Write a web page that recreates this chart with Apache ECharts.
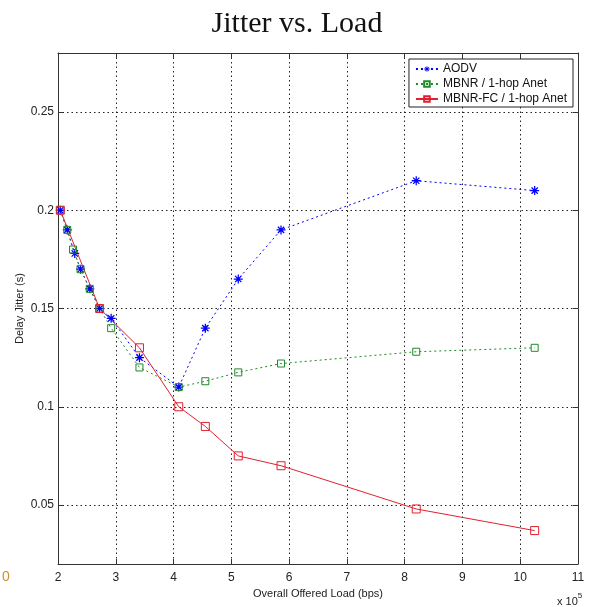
<!DOCTYPE html>
<html><head><meta charset="utf-8">
<script src="https://cdn.jsdelivr.net/npm/echarts@6/dist/echarts.min.js"></script>
<style>html,body{margin:0;padding:0;background:#fff}#c{width:594px;height:607px}</style>
</head><body><div id="c"></div>
<script>
// Offered load in units of 1e5 bps
const aodvX   = [2.04, 2.16, 2.29, 2.39, 2.55, 2.72, 2.92, 3.41, 4.09, 4.55, 5.12, 5.86, 8.2, 10.25];
const aodvY   = [0.200, 0.190, 0.178, 0.170, 0.160, 0.150, 0.145, 0.125, 0.110, 0.140, 0.165, 0.190, 0.215, 0.210];
const mbnrX   = [2.04, 2.16, 2.26, 2.39, 2.55, 2.72, 2.92, 3.41, 4.09, 4.55, 5.12, 5.86, 8.2, 10.25];
const mbnrY   = [0.200, 0.190, 0.180, 0.170, 0.160, 0.150, 0.140, 0.120, 0.110, 0.113, 0.1175, 0.122, 0.128, 0.130];
const fcX     = [2.04, 2.72, 3.41, 4.09, 4.55, 5.12, 5.86, 8.2, 10.25];
const fcY     = [0.200, 0.150, 0.130, 0.100, 0.090, 0.075, 0.070, 0.048, 0.037];
const seriesNames = ['AODV', 'MBNR / 1-hop Anet', 'MBNR-FC / 1-hop Anet'];
const yTicks = [0.05, 0.1, 0.15, 0.2, 0.25];

const pair = (xs, ys) => xs.map((x, i) => [x, ys[i]]);
const star = 'path://M4.3 0H5.7V10H4.3Z M0 4.3H10V5.7H0Z M1 2L2 1L9 8L8 9Z M8 1L9 2L2 9L1 8Z';
const FONT = 'Liberation Sans';
const dotted = { color: '#222', type: [1.5, 3], width: 1 };

const chart = echarts.init(document.getElementById('c'), null, { renderer: 'canvas' });
chart.setOption({
  animation: false,
  backgroundColor: '#fff',
  title: {
    text: 'Jitter vs. Load', left: 'center', top: 4,
    textStyle: { fontFamily: 'Liberation Serif', fontSize: 30, fontWeight: 'normal', color: '#111' }
  },
  grid: { left: 58, right: 16, top: 53, bottom: 43, show: false },
  legend: {
    data: seriesNames, orient: 'vertical', right: 21, top: 59,
    backgroundColor: '#fff', borderColor: '#222', borderWidth: 1,
    padding: [4, 6, 2, 6], itemGap: 3, itemWidth: 22, itemHeight: 7,
    textStyle: { fontFamily: FONT, fontSize: 12, color: '#111' }
  },
  xAxis: [{
    type: 'value', min: 2, max: 11, interval: 1,
    name: 'Overall Offered Load (bps)', nameLocation: 'middle', nameGap: 24,
    nameTextStyle: { fontFamily: FONT, fontSize: 11, color: '#222' },
    axisLine: { show: true, onZero: false, lineStyle: { color: '#333', width: 1 } },
    axisTick: { show: true, inside: true, length: 5, lineStyle: { color: '#333' } },
    axisLabel: { fontFamily: FONT, fontSize: 12, color: '#222', margin: 8 },
    splitLine: { show: true, lineStyle: dotted }
  }, {
    type: 'value', position: 'top', min: 2, max: 11, interval: 1,
    axisLine: { show: true, onZero: false, lineStyle: { color: '#333', width: 1 } },
    axisTick: { show: true, inside: true, length: 5, lineStyle: { color: '#333' } },
    axisLabel: { show: false }, splitLine: { show: false }
  }],
  yAxis: [{
    type: 'value', min: 0.02, max: 0.28,
    name: 'Delay Jitter (s)', nameLocation: 'middle', nameGap: 33, nameMoveOverlap: false,
    nameTextStyle: { fontFamily: FONT, fontSize: 11, color: '#222' },
    axisLine: { show: true, onZero: false, lineStyle: { color: '#333', width: 1 } },
    axisTick: { show: true, inside: true, length: 5, customValues: yTicks, lineStyle: { color: '#333' } },
    axisLabel: { fontFamily: FONT, fontSize: 12, color: '#222', margin: 4, customValues: yTicks },
    splitLine: { show: true, lineStyle: dotted }
  }, {
    type: 'value', position: 'right', min: 0.02, max: 0.28,
    axisLine: { show: true, onZero: false, lineStyle: { color: '#333', width: 1 } },
    axisTick: { show: true, inside: true, length: 5, customValues: yTicks, lineStyle: { color: '#333' } },
    axisLabel: { show: false }, splitLine: { show: false }
  }],
  series: [{
    name: seriesNames[0], type: 'line', data: pair(aodvX, aodvY),
    symbol: star, symbolSize: 9, showAllSymbol: true,
    lineStyle: { color: '#0000ff', type: [2, 3], width: 1 },
    itemStyle: { color: '#0000ff' }
  }, {
    name: seriesNames[1], type: 'line', data: pair(mbnrX, mbnrY),
    symbol: 'rect', symbolSize: 7, showAllSymbol: true,
    lineStyle: { color: '#1f8a2a', type: [2, 3], width: 1 },
    itemStyle: { color: 'rgba(255,255,255,0)', borderColor: '#1f8a2a', borderWidth: 1 }
  }, {
    name: seriesNames[2], type: 'line', data: pair(fcX, fcY),
    symbol: 'rect', symbolSize: 8, showAllSymbol: true,
    lineStyle: { color: '#e0202e', type: 'solid', width: 1 },
    itemStyle: { color: 'rgba(255,255,255,0)', borderColor: '#e0202e', borderWidth: 1 }
  }],
  graphic: [{
    type: 'text', left: 2, top: 570,
    style: { text: '0', fontFamily: FONT, fontSize: 14, fill: '#c8902f' }
  }, {
    type: 'text', left: 557, top: 592,
    style: {
      text: '{a|x 10}{b|5}',
      rich: {
        a: { fontFamily: FONT, fontSize: 11, fill: '#222', padding: [6, 0, 0, 0] },
        b: { fontFamily: FONT, fontSize: 8, fill: '#222', padding: [0, 0, 6, 0] }
      }
    }
  }]
});
</script></body></html>
